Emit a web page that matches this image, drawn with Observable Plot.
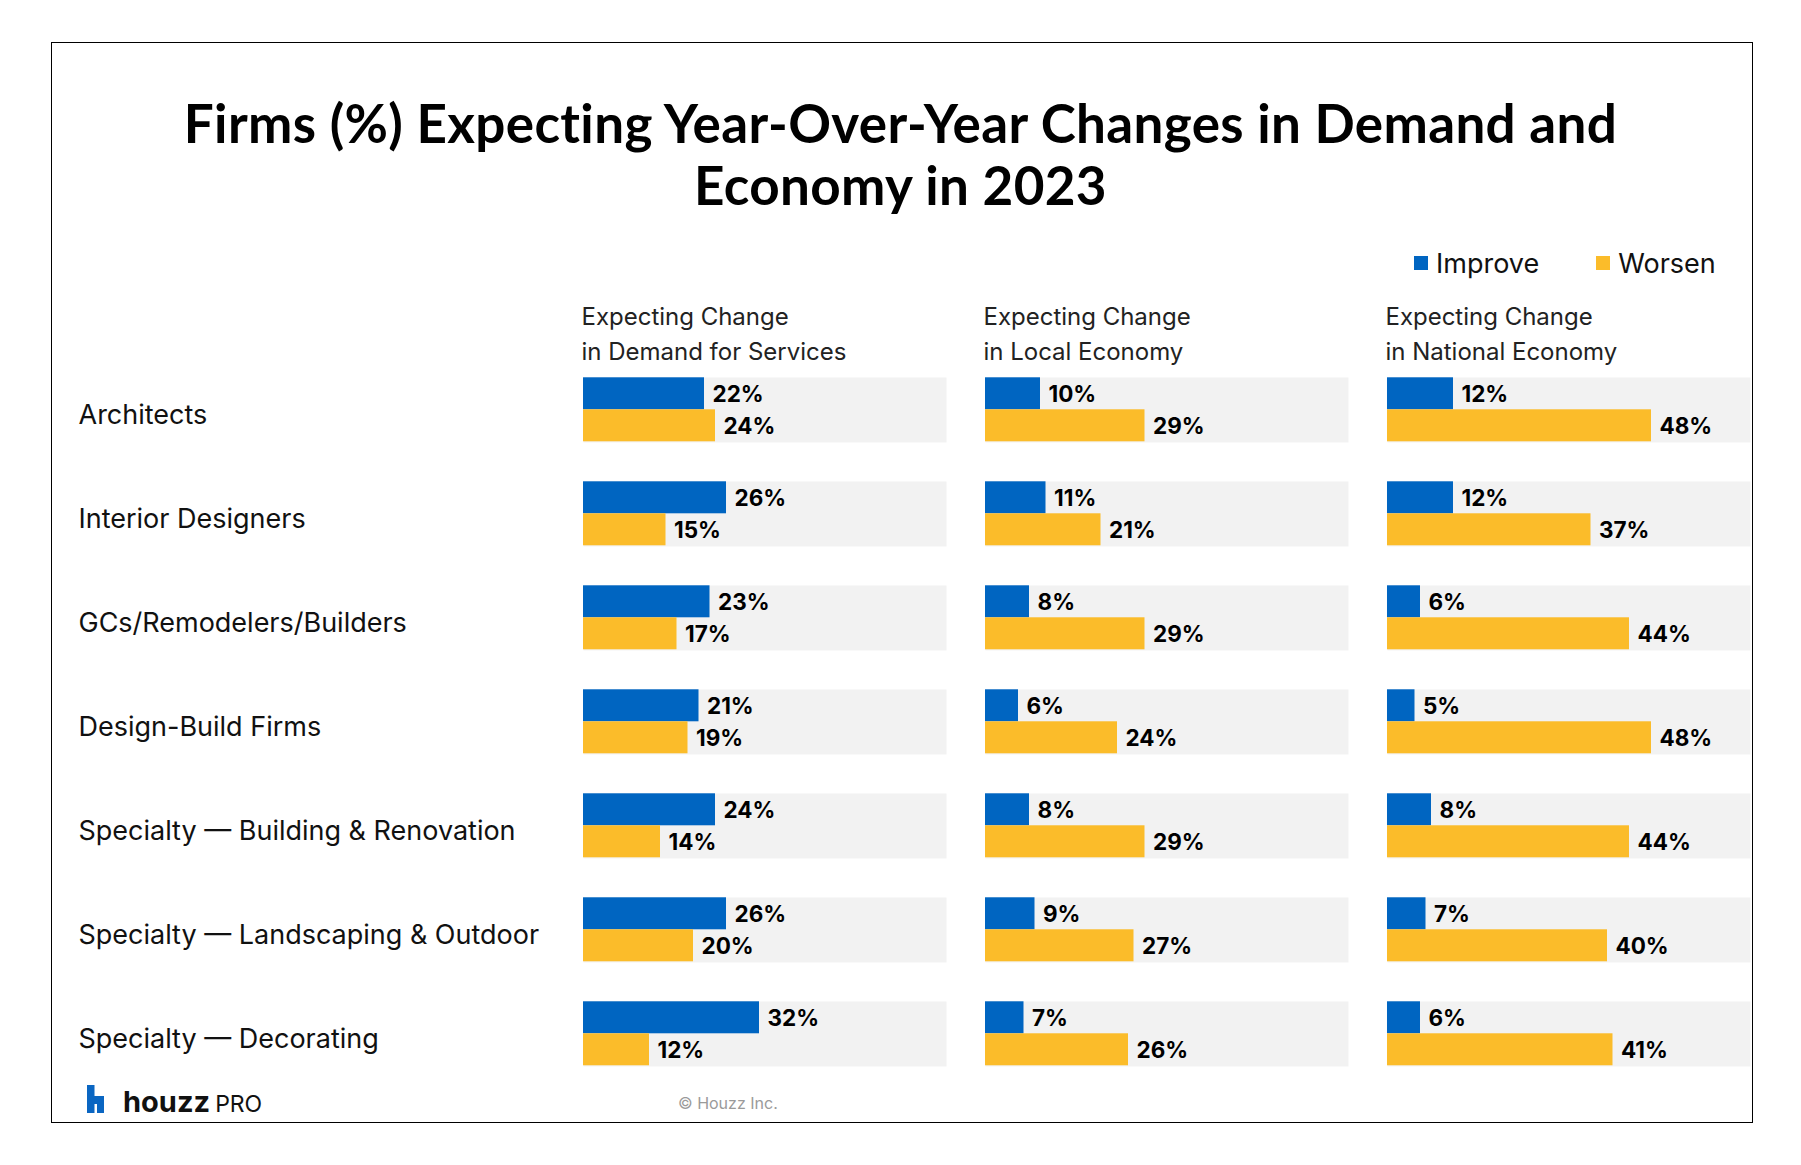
<!DOCTYPE html>
<html>
<head>
<meta charset="utf-8">
<script src="https://cdn.jsdelivr.net/npm/d3@7"></script>
<script src="https://cdn.jsdelivr.net/npm/@observablehq/plot@0.6"></script>
<style>
  html, body { margin: 0; padding: 0; background: #fff; }
  body { font-family: Inter, "Noto Sans", sans-serif; color: #111; }
  #page { position: relative; width: 1801px; height: 1165px; overflow: hidden; background: #fff; }
  #frame { position: absolute; left: 51px; top: 42px; width: 1702px; height: 1081px; border: 1.5px solid #000; box-sizing: border-box; }
  #title { position: absolute; left: 0; top: 92px; width: 1801px; text-align: center;
           font-family: Lato, Inter, sans-serif; font-weight: 700; font-size: 53px; letter-spacing: 0.35px;
           line-height: 62px; color: #000; }
  #legend { position: absolute; left: 1414px; top: 249.5px; }
  .lg-swatches { margin: 0 !important; }
  .lg-swatches-wrap { min-height: 0 !important; }
  .lg-swatch { margin-right: 57px !important; line-height: 27px; color: #111; }
  .lg-swatch > svg { margin-right: 8px !important; }
  #chart { position: absolute; left: 0; top: 280px; }
  #logo { position: absolute; left: 87px; top: 1085px; }
  #brand { position: absolute; left: 123px; top: 1087.3px; font-size: 29px; line-height: 29px; font-weight: 700; color: #111; white-space: nowrap; }
  #brand span { font-weight: 400; font-size: 23px; margin-left: 5px; }
  #copy { position: absolute; left: 678px; top: 1094.5px; font-size: 16px; line-height: 16px; color: #9a9a9a; white-space: nowrap; }
</style>
</head>
<body>
<div id="page">
  <div id="frame"></div>
  <div id="title">Firms (%) Expecting Year-Over-Year Changes in Demand and<br>Economy in 2023</div>
  <div id="legend"></div>
  <div id="chart"></div>
  <svg id="logo" width="17" height="28" viewBox="0 0 17 28"><path d="M0,0H7.5V11H17V28H10V19H7.5V28H0Z" fill="#0a66c2"/></svg>
  <div id="brand">houzz<span>PRO</span></div>
  <div id="copy">© Houzz Inc.</div>
</div>
<script>
// ---- data ----
const categories = [
  "Architects",
  "Interior Designers",
  "GCs/Remodelers/Builders",
  "Design-Build Firms",
  "Specialty — Building & Renovation",
  "Specialty — Landscaping & Outdoor",
  "Specialty — Decorating"
];
const metrics = [
  "Expecting Change\nin Demand for Services",
  "Expecting Change\nin Local Economy",
  "Expecting Change\nin National Economy"
];
const series = ["Improve", "Worsen"];
const seriesColors = ["#0065c1", "#fbbc2a"];

const demandImprove   = [22, 26, 23, 21, 24, 26, 32];
const demandWorsen    = [24, 15, 17, 19, 14, 20, 12];
const localImprove    = [10, 11, 8, 6, 8, 9, 7];
const localWorsen     = [29, 21, 29, 24, 29, 27, 26];
const nationalImprove = [12, 12, 6, 5, 8, 7, 6];
const nationalWorsen  = [48, 37, 44, 48, 44, 40, 41];

const seriesByMetric = [
  [demandImprove, demandWorsen],
  [localImprove, localWorsen],
  [nationalImprove, nationalWorsen]
];

const rows = [];
metrics.forEach((m, mi) => {
  series.forEach((s, si) => {
    seriesByMetric[mi][si].forEach((v, ci) => {
      rows.push({metric: m, series: s, category: categories[ci], value: v});
    });
  });
});
const catLabels = categories.map(c => ({category: c, metric: metrics[0]}));
const headers = metrics.map(m => ({metric: m, category: categories[0]}));

// ---- chart ----
const chart = Plot.plot({
  width: 1801,
  height: 796.7,
  marginLeft: 582.7,
  marginRight: 50,
  marginTop: 95.7,
  marginBottom: 10,
  style: {fontFamily: "Inter, 'Noto Sans', sans-serif", background: "transparent", overflow: "visible"},
  x: {domain: [0, 66], axis: null},
  y: {domain: series, axis: null, padding: 0},
  fx: {domain: metrics, axis: null, paddingInner: 0.0975, paddingOuter: 0},
  fy: {domain: categories, axis: null, paddingInner: 0.374, paddingOuter: 0},
  color: {domain: series, range: seriesColors},
  marks: [
    Plot.frame({fill: "#f2f2f2", stroke: "none"}),
    Plot.barX(rows, {fx: "metric", fy: "category", y: "series", x: "value", fill: "series"}),
    Plot.text(rows, {
      fx: "metric", fy: "category", y: "series", x: "value",
      text: d => `${d.value}%`, textAnchor: "start", dx: 8, dy: 1,
      fontSize: 22.5, fontWeight: 700, fill: "#000"
    }),
    Plot.text(catLabels, {
      fx: "metric", fy: "category", text: "category",
      frameAnchor: "left", textAnchor: "start", dx: -505, dy: 5,
      fontSize: 27, fill: "#111"
    }),
    Plot.text(headers, {
      fx: "metric", fy: "category", text: "metric",
      frameAnchor: "top-left", textAnchor: "start", lineAnchor: "bottom",
      dx: -2, dy: -17.4, fontSize: 24, lineHeight: 1.46, fill: "#222"
    })
  ]
});
document.getElementById("chart").appendChild(chart);

const legend = Plot.legend({
  color: {domain: series, range: seriesColors},
  swatchSize: 14,
  className: "lg",
  style: {fontSize: "27px", fontFamily: "Inter, 'Noto Sans', sans-serif", color: "#111"}
});
document.getElementById("legend").appendChild(legend);
</script>
</body>
</html>
